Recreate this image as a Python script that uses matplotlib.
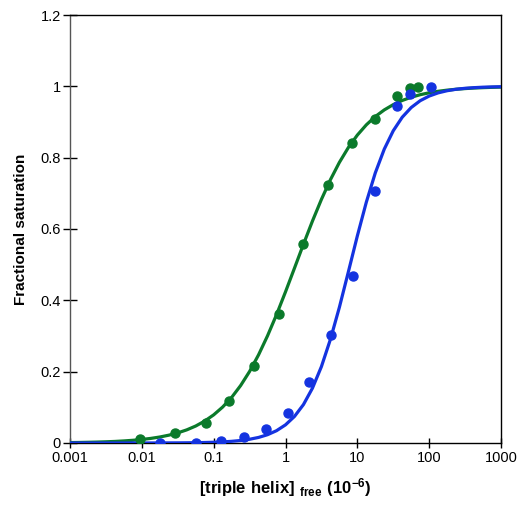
import numpy as np
import matplotlib
matplotlib.use('Agg')
from matplotlib import pyplot as plt
from matplotlib.ticker import FixedLocator, FixedFormatter, NullLocator

plt.rcParams['font.family'] = ['Liberation Sans', 'DejaVu Sans']
plt.rcParams['mathtext.fontset'] = 'custom'
plt.rcParams['mathtext.rm'] = 'Liberation Sans'
plt.rcParams['mathtext.bf'] = 'Liberation Sans:bold'

# measured points
green_x = [0.0094, 0.029, 0.078, 0.166, 0.37, 0.82, 1.78, 3.96, 8.4, 17.7, 35.5, 54.4, 71]
green_y = [0.010, 0.029, 0.057, 0.118, 0.215, 0.361, 0.557, 0.723, 0.840, 0.908, 0.972, 0.994, 0.999]
blue_x = [0.018, 0.057, 0.127, 0.268, 0.537, 1.09, 2.15, 4.32, 8.83, 17.7, 35.5, 54.4, 106]
blue_y = [0.0, 0.0, 0.005, 0.017, 0.040, 0.085, 0.170, 0.304, 0.468, 0.707, 0.946, 0.978, 0.999]

# fitted curves, every 1/8 decade from 0.001 to 1000
fit_logx = np.linspace(-3, 3, 49)
green_fit = [0.0012, 0.0015, 0.0020, 0.0026, 0.0034, 0.0044, 0.0058, 0.0076, 0.0099,
             0.0129, 0.0168, 0.0219, 0.0284, 0.0368, 0.0476, 0.0615, 0.0789, 0.1008,
             0.1278, 0.1610, 0.2006, 0.2472, 0.3006, 0.3598, 0.4238, 0.4903, 0.5573,
             0.6222, 0.6830, 0.7381, 0.7867, 0.8284, 0.8633, 0.8920, 0.9153, 0.9339,
             0.9487, 0.9604, 0.9694, 0.9765, 0.9819, 0.9861, 0.9893, 0.9918, 0.9937,
             0.9952, 0.9963, 0.9972, 0.9979]
blue_fit = [0.0, 0.0, 0.0, 0.0, 0.0, 0.0, 0.0, 0.0001, 0.0001,
            0.0001, 0.0002, 0.0003, 0.0004, 0.0006, 0.0009, 0.0014, 0.0021, 0.0031,
            0.0047, 0.0070, 0.0105, 0.0156, 0.0233, 0.0345, 0.0509, 0.0745, 0.1078,
            0.1537, 0.2142, 0.2904, 0.3804, 0.4797, 0.5805, 0.6751, 0.7573, 0.8240,
            0.8754, 0.9134, 0.9406, 0.9597, 0.9727, 0.9817, 0.9877, 0.9918, 0.9945,
            0.9963, 0.9976, 0.9984, 0.9989]

green = '#0b7a2b'
blue = '#1433e0'

fig = plt.figure(figsize=(5.19, 5.08), dpi=100)
ax = fig.add_axes([70/519, 1-443/508, 431/519, 428/508])

fit_x = 10**fit_logx
ax.plot(fit_x, green_fit, color=green, lw=2.3, zorder=3)
ax.plot(fit_x, blue_fit, color=blue, lw=2.3, zorder=3)
ax.plot(green_x, green_y, 'o', color=green, ms=6.5, zorder=4)
ax.plot(blue_x, blue_y, 'o', color=blue, ms=6.5, zorder=4)

ax.set_xscale('log')
ax.set_xlim(0.001, 1000)
ax.set_ylim(0, 1.2)

xt = [0.001, 0.01, 0.1, 1, 10, 100, 1000]
xl = ['0.001', '0.01', '0.1', '1', '10', '100', '1000']
yt = [0, 0.2, 0.4, 0.6, 0.8, 1.0, 1.2]
yl = ['0', '0.2', '0.4', '0.6', '0.8', '1', '1.2']
ax.xaxis.set_major_locator(FixedLocator(xt))
ax.xaxis.set_major_formatter(FixedFormatter(xl))
ax.xaxis.set_minor_locator(NullLocator())
ax.yaxis.set_major_locator(FixedLocator(yt))
ax.yaxis.set_major_formatter(FixedFormatter(yl))

ax.tick_params(axis='x', direction='inout', length=7, width=1, labelsize=10.5, pad=2)
ax.tick_params(axis='y', direction='inout', length=9.5, width=1, labelsize=10.5, pad=2)
for s in ax.spines.values():
    s.set_linewidth(1)
ax.spines['left'].set_color('#555555')

ax.set_ylabel('Fractional saturation', fontsize=11, fontweight='bold', labelpad=9)
ax.set_xlabel(r'$\mathbf{[triple\ helix]}\ {}_{\mathbf{free}}\ \mathbf{(10^{-6})}$', fontsize=12, labelpad=8)

fig.savefig('out.png', dpi=100)
